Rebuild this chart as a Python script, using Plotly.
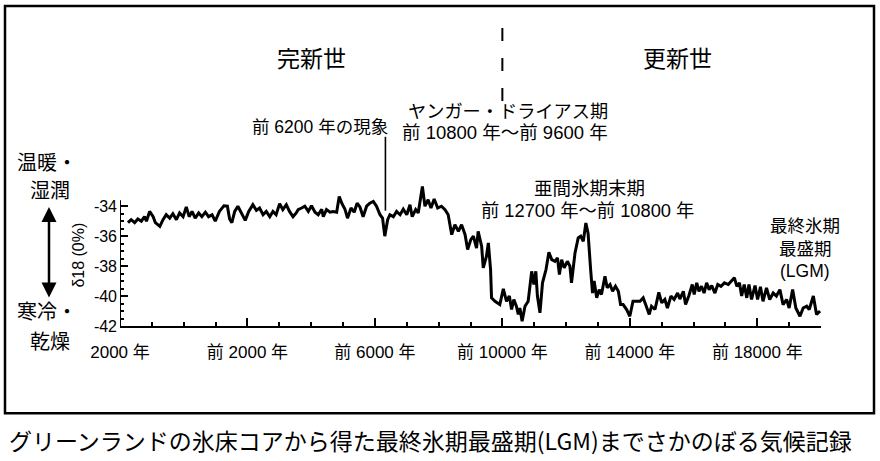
import plotly.graph_objects as go

# ---------------- data (years before AD 2000, delta18O permil) ----------------
years_bp = [
    250, 350, 460, 560, 670, 770, 830, 930, 1040, 1110, 1250, 1350, 1450, 1560, 1660, 1770, 1870, 1980,
    2080, 2170, 2260, 2360, 2470, 2570, 2680, 2780, 2890, 2990, 3120, 3260, 3370, 3440, 3510, 3600,
    3700, 3810, 3930, 4040, 4170, 4280, 4380, 4490, 4590, 4700, 4800, 4900, 5010, 5110, 5220, 5320,
    5430, 5530, 5590, 5700, 5800, 5910, 6010, 6120, 6220, 6330, 6380, 6480, 6590, 6690, 6800, 6880,
    6960, 7060, 7140, 7250, 7350, 7440, 7530, 7630, 7740, 7840, 7950, 8050, 8160, 8240, 8310, 8400,
    8470, 8580, 8680, 8790, 8890, 9000, 9100, 9170, 9280, 9360, 9490, 9570, 9670, 9760, 9860, 9970,
    10090, 10200, 10300, 10410, 10510, 10620, 10720, 10830, 10910, 11010, 11090, 11190, 11240, 11350,
    11400, 11500, 11560, 11630, 11660, 11770, 11920, 12030, 12130, 12220, 12290, 12360, 12440, 12500,
    12550, 12620, 12710, 12810, 12920, 12990, 13050, 13100, 13180, 13260, 13370, 13460, 13550, 13650,
    13730, 13790, 13860, 13940, 14040, 14120, 14170, 14280, 14380, 14460, 14540, 14620, 14690, 14770,
    14830, 14880, 14960, 15040, 15110, 15220, 15290, 15380, 15460, 15550, 15640, 15710, 15790, 15900,
    16000, 16100, 16210, 16320, 16420, 16530, 16610, 16680, 16790, 16910, 17000, 17100, 17180, 17290,
    17390, 17500, 17570, 17680, 17750, 17850, 17960, 18020, 18100, 18170, 18250, 18330, 18410, 18490,
    18570, 18670, 18760, 18860, 18970, 19090, 19220, 19280, 19360, 19440, 19510, 19590, 19670, 19740,
    19820, 19930, 20010, 20100, 20180, 20290, 20390, 20500, 20600, 20710, 20810, 20920, 21000, 21110,
    21210, 21340, 21440, 21550, 21630, 21760, 21860, 21970,
]
d18o = [
    -35.1, -34.9, -35.1, -34.85, -35.0, -34.7, -35.0, -34.35, -34.7, -35.1, -35.35, -34.9, -34.57, -34.8,
    -34.5, -34.9, -34.45, -34.7, -34.05, -34.7, -34.35, -34.8, -34.45, -34.7, -34.4, -34.7, -34.57, -35.0,
    -34.35, -33.97, -34.0, -34.85, -35.1, -34.35, -34.0, -34.45, -34.95, -34.35, -33.9, -34.28, -34.12,
    -34.57, -34.35, -34.7, -34.35, -34.57, -33.83, -34.23, -33.9, -34.35, -34.7, -34.45, -34.23, -34.12,
    -34.0, -34.35, -33.97, -34.4, -34.57, -34.2, -34.7, -34.23, -34.4, -34.35, -34.4, -33.35, -33.8, -34.2,
    -34.8, -34.12, -34.4, -33.8, -34.05, -34.7, -34.0, -33.8, -33.68, -34.0, -34.57, -34.8, -36.0, -34.9,
    -34.57, -34.7, -34.35, -34.57, -34.2, -34.57, -33.9, -34.7, -34.23, -34.45, -32.68, -34.0, -33.57,
    -34.12, -33.52, -34.12, -34.0, -34.23, -34.57, -35.9, -35.23, -35.68, -35.23, -35.9, -36.9, -36.23,
    -36.0, -36.8, -35.68, -36.68, -38.12, -37.35, -36.45, -38.23, -40.12, -40.35, -40.57, -39.52, -40.35,
    -40.0, -40.9, -40.23, -40.68, -41.23, -40.8, -41.68, -40.68, -40.35, -38.35, -39.23, -38.35, -40.0,
    -41.12, -39.12, -38.23, -37.08, -37.57, -37.68, -37.45, -38.57, -37.57, -38.12, -37.68, -38.0, -39.12,
    -37.12, -36.12, -36.0, -36.35, -35.12, -35.8, -38.23, -39.8, -39.0, -40.12, -39.57, -39.9, -38.68,
    -39.45, -39.23, -39.68, -39.35, -39.68, -40.57, -40.57, -40.9, -41.35, -40.35, -40.35, -40.35, -40.12,
    -40.8, -41.23, -40.68, -40.9, -39.75, -40.45, -40.23, -40.8, -40.0, -40.23, -39.8, -40.2, -39.68,
    -40.57, -40.0, -39.23, -39.9, -39.12, -39.68, -39.35, -39.8, -39.12, -39.57, -39.3, -39.8, -39.23,
    -39.35, -39.12, -39.23, -38.9, -38.78, -39.35, -39.12, -40.0, -39.23, -40.12, -39.23, -40.23, -39.3,
    -40.23, -39.38, -40.35, -39.45, -40.23, -39.8, -40.0, -39.57, -40.57, -40.23, -40.8, -39.57, -40.8,
    -41.35, -40.8, -40.68, -40.9, -40.0, -41.23, -41.0,
]

x_tickvals = [0, 4000, 8000, 12000, 16000, 20000]
x_ticktext = ["2000 年", "前 2000 年", "前 6000 年", "前 10000 年", "前 14000 年", "前 18000 年"]
x_minor = [1000, 2000, 3000, 5000, 6000, 7000, 9000, 10000, 11000, 13000, 14000, 15000,
           17000, 18000, 19000, 21000, 22000]
y_tickvals = [-34, -36, -38, -40, -42]
y_ticktext = ["-34", "-36", "-38", "-40", "-42"]
y_minor = [-34.5, -35, -35.5, -36.5, -37, -37.5, -38.5, -39, -39.5, -40.5, -41, -41.5]

# ---------------- layout geometry ----------------
W, H = 880, 461
L, R, T, B = 120, 821, 20, 326.5
PW, PH = R - L, B - T
PX_PER_UNIT = 15.0
y_top = -42 + PH / PX_PER_UNIT

def px2x(px):
    return (px - L) / PW

def px2y(py):
    return (B - py) / PH

FONT = "Liberation Sans, Noto Sans CJK JP, sans-serif"
CJK = "Noto Sans CJK JP, sans-serif"

fig = go.Figure()
fig.add_trace(go.Scatter(
    x=years_bp, y=d18o, mode="lines",
    line=dict(color="black", width=3, shape="linear"),
    hoverinfo="skip", showlegend=False,
))

fig.update_layout(
    width=W, height=H,
    margin=dict(l=L, r=W - R, t=T, b=H - B, pad=0),
    paper_bgcolor="white", plot_bgcolor="white",
    font=dict(family=FONT, color="black", size=16),
    showlegend=False,
    xaxis=dict(
        range=[0, 22000], showgrid=False, zeroline=False,
        showline=True, linecolor="black", linewidth=2,
        tickmode="array", tickvals=x_tickvals, ticktext=x_ticktext,
        ticks="inside", ticklen=8, tickwidth=1.6, tickcolor="black",
        tickfont=dict(size=17, family=FONT), ticklabelstandoff=10,
        minor=dict(tickmode="array", tickvals=x_minor, ticks="inside",
                   ticklen=4, tickwidth=1.6, tickcolor="black"),
    ),
    yaxis=dict(
        range=[-42, y_top], showgrid=False, zeroline=False, showline=False,
        tickmode="array", tickvals=y_tickvals, ticktext=y_ticktext,
        ticks="inside", ticklen=8, tickwidth=1.6, tickcolor="black",
        tickfont=dict(size=16, family=FONT), ticklabelstandoff=2,
        minor=dict(tickmode="array", tickvals=y_minor, ticks="inside",
                   ticklen=4, tickwidth=1.6, tickcolor="black"),
    ),
)

shapes = []
# y axis line (only over the labelled range)
shapes.append(dict(type="line", xref="x", yref="y", x0=0, x1=0, y0=-42, y1=-33.6,
                   line=dict(color="black", width=2)))
# Holocene / Pleistocene boundary (dashed)
shapes.append(dict(type="line", xref="x", yref="paper", x0=12000, x1=12000,
                   y0=px2y(28), y1=px2y(104),
                   line=dict(color="black", width=2, dash="13px,17px")))
# 8.2 ka event leader line
shapes.append(dict(type="line", xref="x", yref="paper", x0=8330, x1=8330,
                   y0=px2y(137), y1=px2y(211),
                   line=dict(color="black", width=1.6)))
# outer frame
shapes.append(dict(type="rect", xref="paper", yref="paper",
                   x0=px2x(5), x1=px2x(874), y0=px2y(6), y1=px2y(414),
                   line=dict(color="black", width=2.5), fillcolor="rgba(0,0,0,0)"))
fig.update_layout(shapes=shapes)

def label(text, cx, cy, size, xanchor="center", family=CJK):
    fig.add_annotation(text=text, x=px2x(cx), y=px2y(cy), xref="paper", yref="paper",
                       showarrow=False, xanchor=xanchor, yanchor="middle",
                       font=dict(size=size, family=family, color="black"))

label("完新世", 311, 57, 23)
label("更新世", 677, 57, 23)
label("ヤンガー・ドライアス期", 508, 110, 18.2)
label("前 10800 年～前 9600 年", 505, 133, 18.5, family=FONT)
label("前 6200 年の現象", 320, 127, 17.5, family=FONT)
label("亜間氷期末期", 589, 187, 18.5)
label("前 12700 年～前 10800 年", 587, 211, 18.3, family=FONT)
label("最終氷期", 805, 225, 17.5)
label("最盛期", 805, 248, 17.5)
label("(LGM)", 805, 271, 17.5, family=FONT)
label("温暖・", 15, 162, 20, xanchor="left")
label("湿潤", 50, 190, 20)
label("寒冷・", 15, 311, 20, xanchor="left")
label("乾燥", 50, 341, 20)
label("グリーンランドの氷床コアから得た最終氷期最盛期(LGM)までさかのぼる気候記録",
      430, 441, 23)

# y axis title
fig.add_annotation(text="δ18 (0%)", x=px2x(79), y=px2y(256), xref="paper", yref="paper",
                   showarrow=False, textangle=-90, xanchor="center", yanchor="middle",
                   font=dict(size=16, family=FONT, color="black"))

# double-headed arrow (warm <-> cold)
fig.add_annotation(text="", x=px2x(49), y=px2y(298), xref="paper", yref="paper",
                   ax=0, ay=-92, axref="pixel", ayref="pixel", showarrow=True,
                   arrowside="end+start", arrowhead=2, arrowsize=1.2, arrowwidth=2.5,
                   arrowcolor="black", standoff=0, startstandoff=0)

fig.write_html("out.html")
